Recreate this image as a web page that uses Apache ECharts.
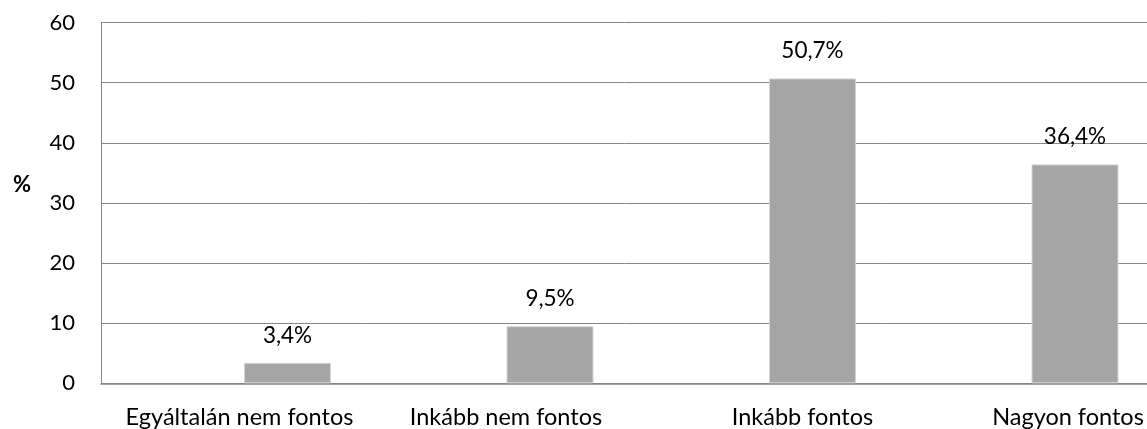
<!DOCTYPE html>
<html>
<head>
<meta charset="utf-8">
<script src="https://cdn.jsdelivr.net/npm/echarts@6/dist/echarts.min.js"></script>
<style>
  html, body { margin: 0; padding: 0; background: #fff; }
  #chart { width: 1147px; height: 429px; }
</style>
</head>
<body>
<div id="chart"></div>
<script>
// adatok
var categories = ["Egyáltalán nem fontos", "Inkább nem fontos", "Inkább fontos", "Nagyon fontos"];
var values = [3.4, 9.5, 50.7, 36.4];
var yTicks = [0, 10, 20, 30, 40, 50, 60];
// a kategóriafeliratok vízszintes eltolása a sáv közepéhez képest (px)
var labelShift = [-48, -44, -10, -7];

var font = "Lato";
var fs = 22;
var catFs = 23.5;
var gridTop = 22.5, gridBottom = 45.7;

var rich = {};
labelShift.forEach(function (s, i) {
    rich["c" + i] = {
        fontSize: catFs, fontFamily: font, color: "#000",
        padding: s < 0 ? [0, -2 * s, 0, 0] : [0, 0, 0, 2 * s]
    };
});

var chart = echarts.init(document.getElementById("chart"));

chart.setOption({
    animation: false,
    backgroundColor: "#fff",
    textStyle: { fontFamily: font },
    grid: [
        // keret + rácsvonalak
        { left: 101, right: -5, top: gridTop, bottom: gridBottom, outerBoundsMode: "none" },
        // oszlopok (a kategóriák eltolva, jobb oldalon levágva)
        { left: 156.25, width: 1050, top: gridTop, bottom: gridBottom, outerBoundsMode: "none" }
    ],
    xAxis: [
        {
            gridIndex: 0, type: "value", min: 0, max: 1,
            axisLine: { show: true, lineStyle: { color: "#878787", width: 1.5 } },
            axisTick: { show: false }, axisLabel: { show: false }, splitLine: { show: false }
        },
        {
            gridIndex: 1, type: "category", data: categories,
            axisLine: { show: false }, axisTick: { show: false },
            axisLabel: {
                color: "#000", fontSize: catFs, fontFamily: font, margin: 22, interval: 0,
                formatter: function (v, i) { return "{c" + i + "|" + v + "}"; },
                rich: rich
            }
        }
    ],
    yAxis: [
        {
            gridIndex: 0, type: "value", min: yTicks[0], max: yTicks[yTicks.length - 1], interval: 10,
            axisLine: { show: true, lineStyle: { color: "#878787" } },
            axisTick: { show: false },
            axisLabel: { color: "#000", fontSize: fs, fontFamily: font, margin: 26 },
            splitLine: { lineStyle: { color: "#878787" } }
        },
        {
            gridIndex: 1, type: "value", min: 0, max: 60, show: false
        }
    ],
    graphic: [{
        type: "text", x: 13, y: 185,
        style: { text: "%", fontSize: fs, fontWeight: "bold", fontFamily: font, fill: "#000", verticalAlign: "middle" }
    }],
    series: [{
        type: "bar",
        xAxisIndex: 1, yAxisIndex: 1,
        data: values,
        barWidth: 87,
        itemStyle: { color: "#a5a5a5", borderColor: "#d4d4d4", borderWidth: 1 },
        label: {
            show: true, position: "top", distance: 16,
            color: "#000", fontSize: 22.5, fontFamily: font,
            formatter: function (p) { return p.value.toFixed(1).replace(".", ",") + "%"; }
        }
    }]
});
</script>
</body>
</html>
